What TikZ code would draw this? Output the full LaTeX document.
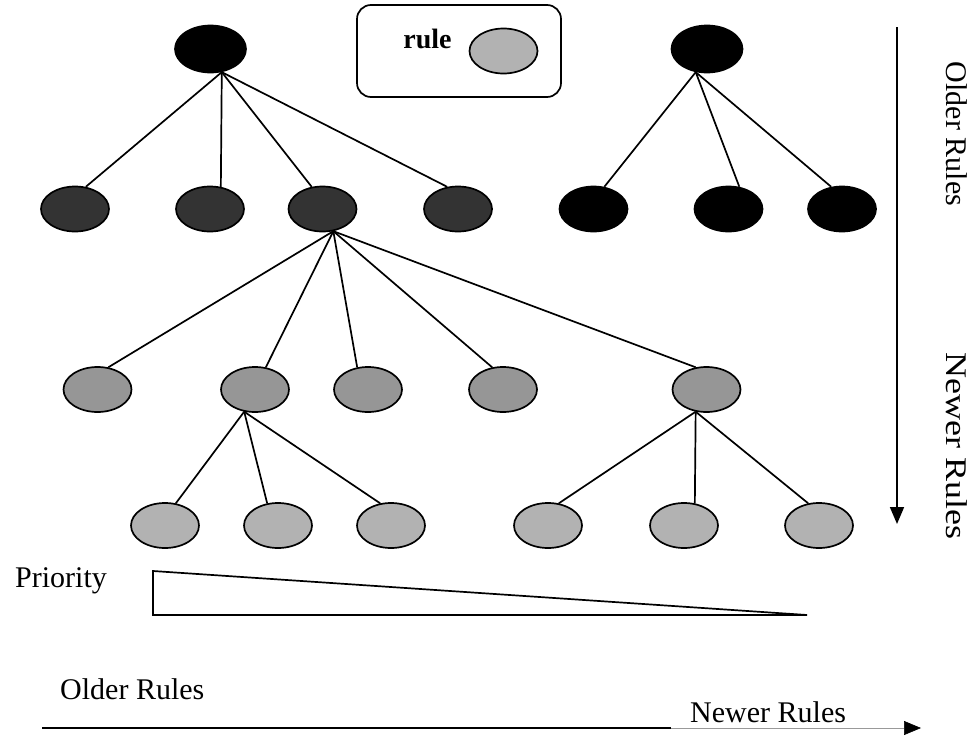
\documentclass[tikz,border=0pt]{standalone}
\usepackage{fontspec}
\setmainfont{Liberation Serif}
\usetikzlibrary{arrows.meta,shapes.geometric}
\definecolor{lvlA}{HTML}{000000}
\definecolor{lvlB}{HTML}{333333}
\definecolor{lvlC}{HTML}{969696}
\definecolor{lvlD}{HTML}{B2B2B2}
\tikzset{
  rn/.style={ellipse, draw=black, line width=1.7pt, minimum width=68pt, minimum height=45pt, inner sep=0pt},
  rootn/.style={rn, minimum width=71pt, minimum height=47pt},
  edgeline/.style={draw=black, line width=1.7pt},
  lbl/.style={font=\fontsize{30}{36}\selectfont, inner sep=0pt},
  tipA/.style={-{Triangle[length=17pt,width=14pt,color=black]}},
}
\begin{document}
\begin{tikzpicture}[x=1pt,y=-1pt]
\useasboundingbox (0,0) rectangle (969,736);
% roots
\node[rootn, fill=lvlA] (r1) at (210.5,49) {};
\node[rootn, fill=lvlA] (r2) at (707,49) {};
% level 1
\node[rn, fill=lvlB] (a1) at (75,209) {};
\node[rn, fill=lvlB] (a2) at (210,209) {};
\node[rn, fill=lvlB] (a3) at (322.5,209) {};
\node[rn, fill=lvlB] (a4) at (458,209) {};
\node[rn, fill=lvlA] (b1) at (593.5,209) {};
\node[rn, fill=lvlA] (b2) at (728.5,209) {};
\node[rn, fill=lvlA] (b3) at (842,209) {};
% level 2
\node[rn, fill=lvlC] (c1) at (97.5,389.5) {};
\node[rn, fill=lvlC] (c2) at (255,389.5) {};
\node[rn, fill=lvlC] (c3) at (368,389.5) {};
\node[rn, fill=lvlC] (c4) at (503,389.5) {};
\node[rn, fill=lvlC] (c5) at (706.5,389.5) {};
% level 3
\node[rn, fill=lvlD] (d1) at (165,525.5) {};
\node[rn, fill=lvlD] (d2) at (278,525.5) {};
\node[rn, fill=lvlD] (d3) at (391,525.5) {};
\node[rn, fill=lvlD] (d4) at (548,525.5) {};
\node[rn, fill=lvlD] (d5) at (684,525.5) {};
\node[rn, fill=lvlD] (d6) at (819,525.5) {};
% edges
\draw[edgeline] (r1.-64) -- (a1.64);
\draw[edgeline] (r1.-64) -- (a2.64);
\draw[edgeline] (r1.-64) -- (a3.116);
\draw[edgeline] (r1.-64) -- (a4.116);
\draw[edgeline] (r2.-116) -- (b1.64);
\draw[edgeline] (r2.-116) -- (b2.64);
\draw[edgeline] (r2.-116) -- (b3.116);
\draw[edgeline] (a3.-64) -- (c1.64);
\draw[edgeline] (a3.-64) -- (c2.64);
\draw[edgeline] (a3.-64) -- (c3.116);
\draw[edgeline] (a3.-64) -- (c4.116);
\draw[edgeline] (a3.-64) -- (c5.116);
\draw[edgeline] (c2.-116) -- (d1.64);
\draw[edgeline] (c2.-116) -- (d2.116);
\draw[edgeline] (c2.-116) -- (d3.116);
\draw[edgeline] (c5.-116) -- (d4.64);
\draw[edgeline] (c5.-116) -- (d5.64);
\draw[edgeline] (c5.-116) -- (d6.116);
% legend
\node[draw=black, line width=1.7pt, rounded corners=14pt, minimum width=204pt, minimum height=92pt] (leg) at (459,51) {};
\node[font=\fontsize{28}{34}\selectfont\bfseries, inner sep=0pt, anchor=base] (legt) at (427.5,48) {rule};
\node[rn, fill=lvlD] (lege) at (503.5,51) {};
% vertical arrow
\coordinate (vtop) at (897,27);
\coordinate (vbot) at (897,524);
\draw[line width=1.7pt, tipA] (vtop) -- (vbot);
\node[lbl, rotate=-90] (vold) at (957,134) {Older Rules};
\node[lbl, rotate=-90, xscale=1.2] (vnew) at (957,446) {Newer Rules};
% priority
\node[lbl, anchor=base west] (prio) at (15,587) {Priority};
\coordinate (t1) at (153,571);
\coordinate (t2) at (153,615);
\coordinate (t3) at (807,615);
\draw[line width=1.7pt] (t1) -- (t2) -- (t3) -- cycle;
% bottom arrow
\node[lbl, anchor=base west] (bold) at (60,699) {Older Rules};
\node[lbl, anchor=base west] (bnew) at (690,722) {Newer Rules};
\coordinate (hs) at (42,728);
\coordinate (hm) at (671,728);
\coordinate (he) at (921,728);
\draw[line width=1.7pt] (hs) -- (hm);
\draw[line width=0.6pt, black!40, tipA] (hm) -- (he);
\end{tikzpicture}
\end{document}
